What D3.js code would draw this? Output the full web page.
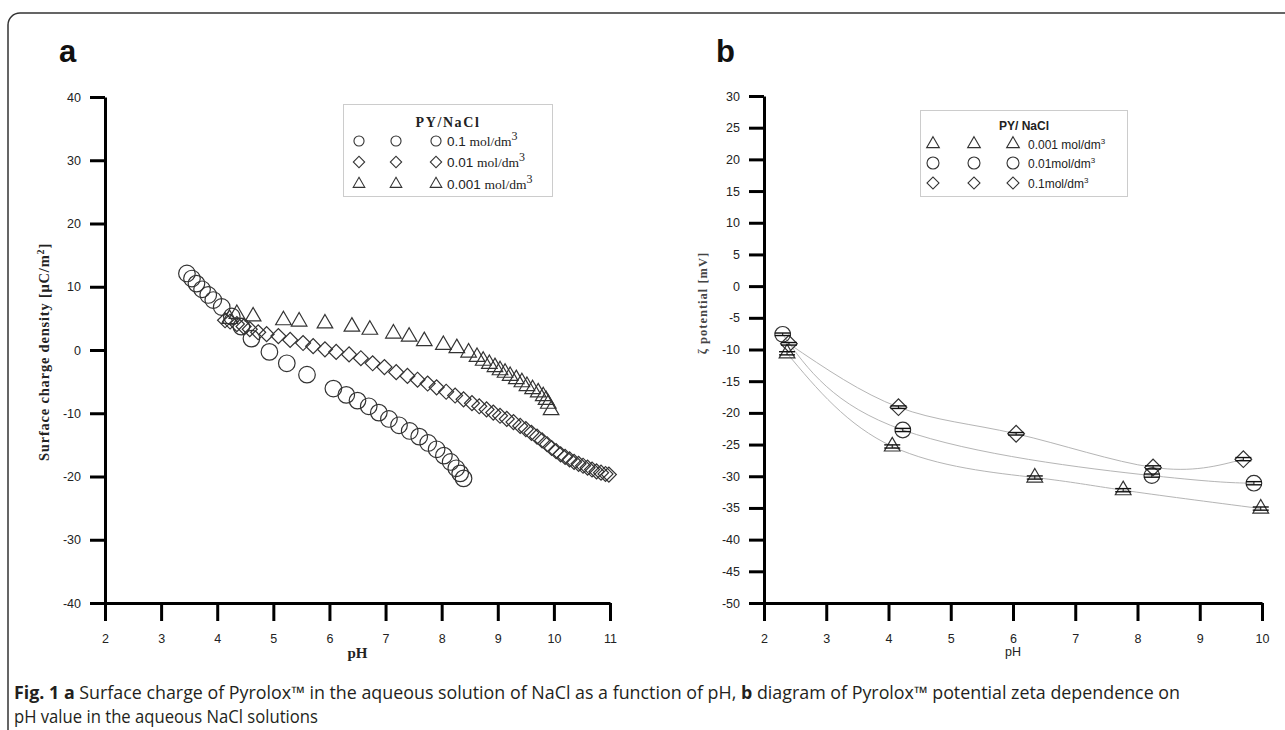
<!DOCTYPE html>
<html>
<head>
<meta charset="utf-8">
<script src="https://cdn.jsdelivr.net/npm/d3@7"></script>
<style>
  body { margin: 0; background: #fff; }
  svg { display: block; }
</style>
</head>
<body>
<svg id="fig" width="1285" height="730"></svg>
<script>
// ---- Panel a: surface charge density vs pH  [pH, value]
const chargeC01 = [
  [3.46, 12.1], [3.55, 11.3], [3.63, 10.5], [3.73, 9.6], [3.84, 8.7], [3.93, 7.9],
  [4.08, 6.8], [4.26, 5.3], [4.43, 3.7], [4.61, 1.8], [4.93, -0.3], [5.24, -2.1],
  [5.60, -3.9], [6.07, -6.1], [6.30, -7.1], [6.50, -8.0], [6.70, -8.9], [6.88, -9.9],
  [7.06, -10.9], [7.24, -11.9], [7.43, -12.8], [7.60, -13.7], [7.76, -14.7], [7.91, -15.7],
  [8.04, -16.7], [8.16, -17.7], [8.26, -18.7], [8.33, -19.5], [8.39, -20.3]
];
const chargeC001 = [
  [4.14, 4.7], [4.23, 4.5], [4.35, 4.1], [4.47, 3.7], [4.58, 3.3], [4.73, 2.8],
  [4.88, 2.5], [5.09, 2.2], [5.30, 1.6], [5.53, 1.1], [5.71, 0.6], [5.92, 0.1],
  [6.12, -0.3], [6.35, -0.7], [6.56, -1.3], [6.77, -2.1], [6.98, -2.7], [7.19, -3.5],
  [7.39, -4.1], [7.57, -4.7], [7.75, -5.3], [7.91, -5.9], [8.08, -6.6], [8.24, -7.2],
  [8.39, -7.8], [8.54, -8.4], [8.67, -8.9], [8.80, -9.4], [8.92, -9.9], [9.04, -10.4],
  [9.16, -10.9], [9.28, -11.4], [9.40, -12.0], [9.50, -12.5], [9.60, -13.1], [9.70, -13.7],
  [9.79, -14.3], [9.88, -14.9], [9.96, -15.5], [10.04, -16.0], [10.12, -16.5], [10.20, -16.9],
  [10.28, -17.3], [10.36, -17.7], [10.44, -18.0], [10.52, -18.3], [10.60, -18.6], [10.68, -18.9],
  [10.76, -19.2], [10.84, -19.4], [10.92, -19.6], [10.98, -19.7]
];
const chargeC0001 = [
  [4.22, 4.9], [4.35, 5.7], [4.64, 5.3], [5.18, 4.7], [5.46, 4.5], [5.92, 4.2],
  [6.40, 3.7], [6.72, 3.2], [7.14, 2.6], [7.42, 2.1], [7.69, 1.4], [8.03, 0.8],
  [8.27, 0.3], [8.48, -0.4], [8.63, -1.1], [8.74, -1.7], [8.85, -2.2], [8.95, -2.7],
  [9.04, -3.2], [9.13, -3.6], [9.22, -4.1], [9.33, -4.6], [9.43, -5.1], [9.52, -5.7],
  [9.62, -6.2], [9.72, -6.7], [9.81, -7.3], [9.86, -7.9], [9.90, -8.5], [9.95, -9.5]
];

// ---- Panel b: zeta potential vs pH  [pH, value, error]
const zetaC0001 = [[2.37, -10.6, 0.25], [4.06, -25.3, 0.25], [6.35, -30.2, 0.25], [7.77, -32.2, 0.25], [9.98, -35.1, 0.25]];
const zetaC001 = [[2.30, -7.6, 0.2], [4.23, -22.7, 0.25], [8.23, -29.9, 0.25], [9.87, -31.1, 0.25]];
const zetaC01 = [[2.40, -9.1, 0.2], [4.16, -19.1, 0.2], [6.05, -23.3, 0.2], [8.25, -28.6, 0.25], [9.70, -27.3, 0.25]];

// ---- Tick values
const xTicksA = [2, 3, 4, 5, 6, 7, 8, 9, 10, 11];
const yTicksA = [40, 30, 20, 10, 0, -10, -20, -30, -40];
const xTicksB = [2, 3, 4, 5, 6, 7, 8, 9, 10];
const yTicksB = [30, 25, 20, 15, 10, 5, 0, -5, -10, -15, -20, -25, -30, -35, -40, -45, -50];

const svg = d3.select("#fig");
const ink = "#222";
const markStroke = "#333";
const serif = "'Liberation Serif', 'Times New Roman', serif";
const sans = "Arial, 'Liberation Sans', sans-serif";

// Frame round the figure
svg.append("rect")
  .attr("x", 8).attr("y", 13)
  .attr("width", 1300).attr("height", 740)
  .attr("rx", 12)
  .attr("fill", "none")
  .attr("stroke", "#333")
  .attr("stroke-width", 1.5);

// Symbol helper: circle / diamond (rotated square) / triangle
function symbolPath(kind, area) {
  const type = kind === "circle" ? d3.symbolCircle : kind === "diamond" ? d3.symbolSquare : d3.symbolTriangle;
  return d3.symbol().type(type).size(area)();
}
function drawMarks(g, data, x, y, kind, area) {
  g.selectAll(null)
    .data(data)
    .enter()
    .append("path")
    .attr("d", symbolPath(kind, area))
    .attr("transform", d => `translate(${x(d[0])},${y(d[1])})` + (kind === "diamond" ? " rotate(45)" : ""))
    .attr("fill", "none")
    .attr("stroke", markStroke)
    .attr("stroke-width", 1.2);
}

// Axes with major + minor ticks (plain hyphen for negatives, as in the figure)
function drawAxes(x, y, xMajor, yMajor, xMinorStep, yMinorStep) {
  const [x0, x1] = x.domain();
  const [y0, y1] = y.domain();
  const xMinor = d3.range(x0 + xMinorStep, x1, xMinorStep * 2);
  const yMinor = d3.range(y0 + yMinorStep, y1, yMinorStep * 2);
  const fmt = d => String(d);

  const gx = svg.append("g").attr("transform", `translate(0,${y(y0)})`);
  gx.call(d3.axisBottom(x).tickValues(xMinor).tickSize(9).tickSizeOuter(0).tickFormat(""));
  gx.call(d3.axisBottom(x).tickValues(xMajor).tickSize(18).tickSizeOuter(0).tickPadding(13).tickFormat(fmt));

  const gy = svg.append("g").attr("transform", `translate(${x(x0)},0)`);
  gy.call(d3.axisLeft(y).tickValues(yMinor).tickSize(8).tickSizeOuter(0).tickFormat(""));
  gy.call(d3.axisLeft(y).tickValues(yMajor).tickSize(15).tickSizeOuter(0).tickPadding(9).tickFormat(fmt));

  [gx, gy].forEach(g => {
    g.selectAll("path.domain").attr("stroke", "#000").attr("stroke-width", 3);
    g.selectAll(".tick line").attr("stroke", "#000").attr("stroke-width", 3);
    g.selectAll("text")
      .attr("fill", ink)
      .style("font-family", sans)
      .style("font-size", "12.5px");
  });
}

function panelLabel(x, letter) {
  svg.append("text")
    .attr("x", x).attr("y", 62)
    .style("font-family", "'Liberation Sans Narrow', Arial, sans-serif")
    .style("font-weight", "bold").style("font-size", "31px")
    .attr("fill", "#111")
    .text(letter);
}

// ================= Panel a =================
const xA = d3.scaleLinear().domain([2, 11]).range([105, 610]);
const yA = d3.scaleLinear().domain([-40, 40]).range([603, 97]);

drawAxes(xA, yA, xTicksA, yTicksA, 0.5, 5);

const gA = svg.append("g");
drawMarks(gA, chargeC01, xA, yA, "circle", 216);
drawMarks(gA, chargeC001, xA, yA, "diamond", 112);
drawMarks(gA, chargeC0001, xA, yA, "triangle", 105);

panelLabel(59, "a");

svg.append("text")
  .attr("transform", "translate(49,352) rotate(-90)")
  .attr("text-anchor", "middle")
  .style("font-family", serif)
  .style("font-weight", "bold").style("font-size", "14.5px").style("letter-spacing", "0.8px")
  .attr("fill", ink)
  .text("Surface charge density [μC/m")
  .append("tspan").attr("dy", -5).style("font-size", "10px").text("2")
  .append("tspan").attr("dy", 5).style("font-size", "14.5px").text("]");

svg.append("text")
  .attr("x", (xA(2) + xA(11)) / 2).attr("y", 658)
  .attr("text-anchor", "middle")
  .style("font-family", serif)
  .style("font-weight", "bold").style("font-size", "15px")
  .attr("fill", ink)
  .text("pH");

// Legend a
const legA = svg.append("g");
legA.append("rect")
  .attr("x", 343.5).attr("y", 104.5).attr("width", 209).attr("height", 92)
  .attr("fill", "#fff").attr("stroke", "#ccc");
legA.append("text")
  .attr("x", 448).attr("y", 127).attr("text-anchor", "middle")
  .style("font-family", serif)
  .style("font-weight", "bold").style("font-size", "14px").style("letter-spacing", "1.6px")
  .attr("fill", ink).text("PY/NaCl");

const legendRowsA = [
  { kind: "circle", area: 80, conc: "0.1", y: 141 },
  { kind: "diamond", area: 64, conc: "0.01", y: 162 },
  { kind: "triangle", area: 58, conc: "0.001", y: 184 }
];
legendRowsA.forEach(r => {
  [359, 396, 436].forEach(cx => {
    legA.append("path")
      .attr("d", symbolPath(r.kind, r.area))
      .attr("transform", `translate(${cx},${r.y})` + (r.kind === "diamond" ? " rotate(45)" : ""))
      .attr("fill", "none").attr("stroke", markStroke).attr("stroke-width", 1.1);
  });
  const t = legA.append("text").attr("x", 447).attr("y", r.y + 5).attr("fill", ink);
  t.append("tspan").style("font-family", sans).style("font-size", "13.5px").text(r.conc + " ");
  t.append("tspan").style("font-family", serif).style("font-size", "13.5px").text("mol/dm");
  t.append("tspan").attr("dy", -6).style("font-family", serif).style("font-size", "12px").text("3");
});

// ================= Panel b =================
const xB = d3.scaleLinear().domain([2, 10]).range([764, 1262]);
const yB = d3.scaleLinear().domain([-50, 30]).range([603, 96]);

drawAxes(xB, yB, xTicksB, yTicksB, 0.5, 2.5);

const gB = svg.append("g");
const line = d3.line().x(d => xB(d[0])).y(d => yB(d[1])).curve(d3.curveNatural);
[zetaC0001, zetaC001, zetaC01].forEach(s => {
  gB.append("path")
    .attr("d", line(s))
    .attr("fill", "none")
    .attr("stroke", "#b5b5b5")
    .attr("stroke-width", 1);
});

function drawErrors(data) {
  data.forEach(d => {
    const cx = xB(d[0]), yt = yB(d[1] + d[2]), yb = yB(d[1] - d[2]);
    const g = gB.append("g").attr("stroke", "#111").attr("stroke-width", 1.4);
    g.append("line").attr("x1", cx - 8).attr("x2", cx + 8).attr("y1", yt).attr("y2", yt);
    g.append("line").attr("x1", cx - 8).attr("x2", cx + 8).attr("y1", yb).attr("y2", yb);
    g.append("line").attr("x1", cx).attr("x2", cx).attr("y1", yt).attr("y2", yb).attr("stroke-width", 1);
  });
}
drawMarks(gB, zetaC0001, xB, yB, "triangle", 107);
drawMarks(gB, zetaC001, xB, yB, "circle", 191);
drawMarks(gB, zetaC01, xB, yB, "diamond", 139);
drawErrors(zetaC0001);
drawErrors(zetaC001);
drawErrors(zetaC01);

panelLabel(716, "b");

svg.append("text")
  .attr("transform", "translate(707,303) rotate(-90)")
  .attr("text-anchor", "middle")
  .style("font-family", serif)
  .style("font-weight", "bold").style("font-size", "12.5px").style("letter-spacing", "1px")
  .attr("fill", "#444")
  .text("ζ potential [mV]");

svg.append("text")
  .attr("x", (xB(2) + xB(10)) / 2).attr("y", 656)
  .attr("text-anchor", "middle")
  .style("font-family", sans)
  .style("font-size", "12.5px")
  .attr("fill", ink)
  .text("pH");

// Legend b
const legB = svg.append("g");
legB.append("rect")
  .attr("x", 920.5).attr("y", 110.5).attr("width", 207).attr("height", 86)
  .attr("fill", "#fff").attr("stroke", "#ccc");
legB.append("text")
  .attr("x", 1024).attr("y", 130).attr("text-anchor", "middle")
  .style("font-family", sans)
  .style("font-weight", "bold").style("font-size", "12px")
  .attr("fill", ink).text("PY/ NaCl");

const legendRowsB = [
  { kind: "triangle", area: 70, conc: "0.001 mol/dm", y: 144 },
  { kind: "circle", area: 113, conc: "0.01mol/dm", y: 163 },
  { kind: "diamond", area: 72, conc: "0.1mol/dm", y: 183 }
];
legendRowsB.forEach(r => {
  [933, 974, 1013].forEach(cx => {
    legB.append("path")
      .attr("d", symbolPath(r.kind, r.area))
      .attr("transform", `translate(${cx},${r.y})` + (r.kind === "diamond" ? " rotate(45)" : ""))
      .attr("fill", "none").attr("stroke", markStroke).attr("stroke-width", 1.1);
  });
  const t = legB.append("text").attr("x", 1028).attr("y", r.y + 4.5)
    .style("font-family", sans).attr("fill", ink);
  t.append("tspan").style("font-size", "12px").text(r.conc);
  t.append("tspan").attr("dy", -5).style("font-size", "8px").text("3");
});

// ================= Caption =================
const cap = svg.append("g")
  .style("font-family", "'Liberation Sans Narrow', 'Open Sans', sans-serif")
  .style("font-size", "17.5px")
  .attr("fill", "#231f20");
const l1 = cap.append("text").attr("x", 14).attr("y", 699)
  .attr("textLength", 1166).attr("lengthAdjust", "spacingAndGlyphs");
l1.append("tspan").style("font-weight", "bold").text("Fig. 1 a");
l1.append("tspan").text(" Surface charge of Pyrolox™ in the aqueous solution of NaCl as a function of pH, ");
l1.append("tspan").style("font-weight", "bold").text("b");
l1.append("tspan").text(" diagram of Pyrolox™ potential zeta dependence on");
cap.append("text").attr("x", 14).attr("y", 723)
  .attr("textLength", 304).attr("lengthAdjust", "spacingAndGlyphs")
  .text("pH value in the aqueous NaCl solutions");
</script>
</body>
</html>
